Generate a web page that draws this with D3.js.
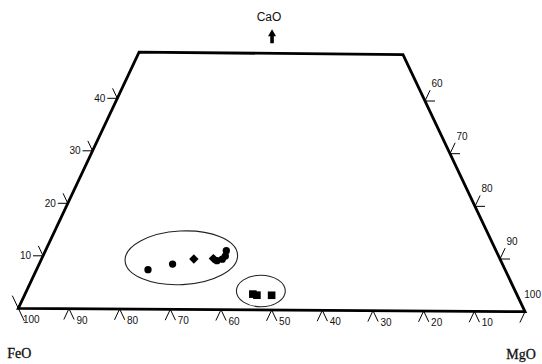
<!DOCTYPE html>
<html>
<head>
<meta charset="utf-8">
<script src="https://cdn.jsdelivr.net/npm/d3@7"></script>
<style>
  html, body { margin: 0; padding: 0; background: #fff; overflow: hidden; }
  svg { display: block; }
  .tick-label { font-family: 'Liberation Sans Narrow', 'Arial Narrow', 'Liberation Sans', sans-serif; font-size: 10px; fill: #111; }
  .corner-label { font-family: 'Liberation Serif', 'Times New Roman', serif; font-size: 14px; fill: #111; stroke: #111; stroke-width: 0.3px; }
  .apex-label { font-family: 'Liberation Sans Narrow', 'Arial Narrow', 'Liberation Sans', sans-serif; font-size: 12px; fill: #111; }
</style>
</head>
<body>
<svg id="chart" width="542" height="364"></svg>
<script>
// grain analyses, CaO + MgO + FeO = 100
const sampleCaO = [7.5, 8.6, 9.6, 9.7, 9.3, 9.6, 10.2, 11.2, 3.0, 2.8, 2.8];
const sampleMgO = [21.9, 26.2, 29.9, 33.7, 34.6, 35.5, 35.8, 35.5, 44.8, 45.7, 48.6];
const sampleFeO = [70.6, 65.2, 60.5, 56.6, 56.1, 54.9, 54.0, 53.3, 52.2, 51.5, 48.6];
const sampleShape = ['circle', 'circle', 'diamond', 'diamond', 'circle', 'circle', 'circle', 'circle', 'square', 'square', 'square'];

// tick values on the three edges
const feoTicks = [100, 90, 80, 70, 60, 50, 40, 30, 20, 10];
const caoTicks = [10, 20, 30, 40];
const mgoTicks = [60, 70, 80, 90, 100];
const topCaO = 48.8;

// groups circled on the plot: centre CaO, centre Mg/(Mg+Fe), half spreads
const groupCaO = [9.8, 3.6];
const groupMgNo = [0.303, 0.478];
const groupCaOSpread = [5.1, 3.0];
const groupMgNoSpread = [0.123, 0.05];
const groupTilt = [-3, 0];

const svg = d3.select('#chart');

// edges of the (scanned) quadrilateral as CaO scales
const leftX = d3.scaleLinear().domain([0, 40]).range([18.3, 117.3]);
const leftY = d3.scaleLinear().domain([0, 40]).range([308.3, 98.3]);
const rightX = d3.scaleLinear().domain([0, 40]).range([525, 425]);
const rightY = d3.scaleLinear().domain([0, 40]).range([311.7, 101]);

function project(cao, mgNo) {
  return d3.interpolateArray([leftX(cao), leftY(cao)], [rightX(cao), rightY(cao)])(mgNo);
}

function unit(a, b) {
  const dx = b[0] - a[0], dy = b[1] - a[1];
  const len = Math.hypot(dx, dy);
  return [dx / len, dy / len];
}

const upLeft = unit(project(0, 0), project(40, 0));
const upRight = unit(project(0, 1), project(40, 1));

const line = d3.line();

// ellipses first so markers sit on top
svg.append('g').attr('class', 'groups')
  .selectAll('ellipse')
  .data(groupCaO.map((c, i) => ({ c, u: groupMgNo[i], dc: groupCaOSpread[i], du: groupMgNoSpread[i], tilt: groupTilt[i] })))
  .join('ellipse')
  .each(function (d) {
    const ctr = project(d.c, d.u);
    const a = project(d.c, d.u - d.du), b = project(d.c, d.u + d.du);
    const t = project(d.c + d.dc, d.u), s = project(d.c - d.dc, d.u);
    d3.select(this)
      .attr('cx', ctr[0]).attr('cy', ctr[1])
      .attr('rx', Math.hypot(b[0] - a[0], b[1] - a[1]) / 2)
      .attr('ry', Math.abs(s[1] - t[1]) / 2)
      .attr('transform', `rotate(${d.tilt},${ctr[0]},${ctr[1]})`);
  })
  .attr('fill', 'none')
  .attr('stroke', '#222')
  .attr('stroke-width', 1.1);

// outline
svg.append('path')
  .attr('d', line([project(0, 0), project(topCaO, 0), project(topCaO, 1), project(0, 1)]) + 'Z')
  .attr('fill', 'none')
  .attr('stroke', '#000')
  .attr('stroke-width', 2.8)
  .attr('stroke-linejoin', 'miter');

const ticks = svg.append('g').attr('class', 'ticks')
  .attr('stroke', '#000').attr('stroke-width', 1).attr('fill', 'none');
const labels = svg.append('g');

// FeO along the base
feoTicks.forEach(f => {
  const p = project(0, 1 - f / 100);
  if (f === 100) {
    ticks.append('path').attr('d', line([
      [p[0] + upRight[0] * 14, p[1] + upRight[1] * 14],
      [p[0] - upRight[0] * 14, p[1] - upRight[1] * 14]]));
  } else {
    ticks.append('path').attr('d', line([
      [p[0] - upLeft[0] * 12, p[1] - upLeft[1] * 12], p,
      [p[0] - upRight[0] * 12, p[1] - upRight[1] * 12]]));
  }
  labels.append('text').attr('class', 'tick-label')
    .attr('x', p[0] + 13).attr('y', p[1] + 15)
    .attr('text-anchor', 'middle')
    .text(f);
});

// CaO up the left side
caoTicks.forEach(c => {
  const p = project(c, 0);
  ticks.append('path').attr('d', line([[p[0] - 10, p[1]], p,
    [p[0] + upRight[0] * 11, p[1] + upRight[1] * 11]]));
  labels.append('text').attr('class', 'tick-label')
    .attr('x', p[0] - 12).attr('y', p[1]).attr('dy', '0.35em')
    .attr('text-anchor', 'end')
    .text(c);
});

// MgO down the right side
mgoTicks.forEach(m => {
  const p = project(100 - m, 1);
  if (m === 100) {
    ticks.append('path').attr('d', line([p, [p[0] - upLeft[0] * 12, p[1] - upLeft[1] * 12]]));
  } else {
    ticks.append('path').attr('d', line([[p[0] + 10, p[1]], p,
      [p[0] + upLeft[0] * 12, p[1] + upLeft[1] * 12]]));
  }
  // the corner label sits against the page edge
  labels.append('text').attr('class', 'tick-label')
    .attr('x', m === 100 ? 541 : p[0] + 12).attr('y', p[1] - 17.5).attr('dy', '0.35em')
    .attr('text-anchor', m === 100 ? 'end' : 'middle')
    .text(m);
});

// corner names
const feoCorner = project(0, 0), mgoCorner = project(0, 1);
labels.append('text').attr('class', 'corner-label')
  .attr('x', feoCorner[0] + 1).attr('y', feoCorner[1] + 50)
  .attr('text-anchor', 'middle').text('FeO');
labels.append('text').attr('class', 'corner-label')
  .attr('x', mgoCorner[0] - 4).attr('y', mgoCorner[1] + 47)
  .attr('text-anchor', 'middle').text('MgO');

// CaO apex pointer above the top edge
const topMid = d3.interpolateArray(project(topCaO, 0), project(topCaO, 1))(0.5);
labels.append('text').attr('class', 'apex-label')
  .attr('x', topMid[0] - 2).attr('y', topMid[1] - 32)
  .attr('text-anchor', 'middle').text('CaO');
const ax = topMid[0] + 1, ay = topMid[1] - 24;
svg.append('path')
  .attr('d', line([[ax, ay], [ax + 4, ay + 7], [ax + 1.8, ay + 7], [ax + 1.8, ay + 14],
    [ax - 1.8, ay + 14], [ax - 1.8, ay + 7], [ax - 4, ay + 7]]) + 'Z')
  .attr('fill', '#000');

// samples
const symbolType = { circle: d3.symbolCircle, diamond: d3.symbolSquare, square: d3.symbolSquare };
const symbolSize = { circle: 42, diamond: 44, square: 58 };
const samples = sampleCaO.map((c, i) => ({
  c, mg: sampleMgO[i], fe: sampleFeO[i], shape: sampleShape[i]
}));
svg.append('g').attr('class', 'samples')
  .selectAll('path')
  .data(samples)
  .join('path')
  .attr('d', d => d3.symbol().type(symbolType[d.shape]).size(symbolSize[d.shape])())
  .attr('transform', d => {
    const p = project(d.c, d.mg / (d.mg + d.fe));
    return `translate(${p[0]},${p[1]})` + (d.shape === 'diamond' ? ' rotate(45)' : '');
  })
  .attr('fill', '#000');
</script>
</body>
</html>
